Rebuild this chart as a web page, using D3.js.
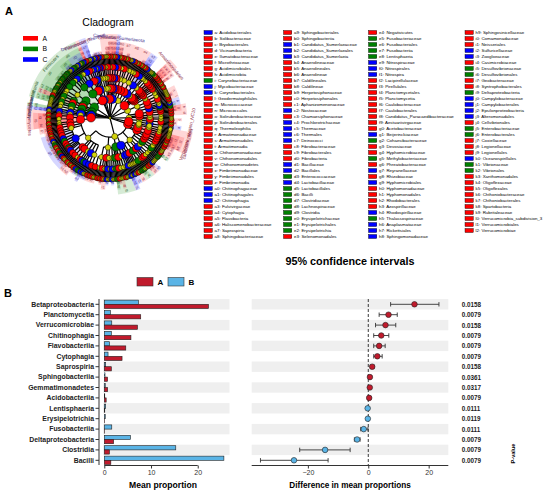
<!DOCTYPE html>
<html>
<head>
<meta charset="utf-8">
<script src="https://cdn.jsdelivr.net/npm/d3@7/dist/d3.min.js"></script>
<style>
  body { margin: 0; background: #fff; }
  svg { display: block; font-family: "Liberation Sans", Arial, sans-serif; }
</style>
</head>
<body>
<svg id="fig" width="550" height="494"></svg>
<script>
// ---------------- data : panel B ----------------
const classes = ["Betaproteobacteria", "Planctomycetia", "Verrucomicrobiae", "Chitinophagia",
  "Flavobacteriia", "Cytophagia", "Saprospiria", "Sphingobacteriia", "Gemmatimonadetes",
  "Acidobacteriia", "Lentisphaeria", "Erysipelotrichia", "Fusobacteriia", "Deltaproteobacteria",
  "Clostridia", "Bacilli"];
const meanA = [22.3, 7.8, 7.1, 5.7, 4.6, 3.8, 1.5, 0.7, 0.7, 0.4, 0.1, 0.05, 0.05, 2.0, 1.1, 1.4];
const meanB = [7.3, 1.3, 1.6, 1.5, 1.1, 0.8, 0.3, 0.15, 0.2, 0.1, 0.3, 0.2, 1.6, 5.6, 15.3, 25.6];
const diffMean = [15.3, 6.7, 5.7, 4.3, 3.6, 3.0, 1.3, 0.55, 0.5, 0.3, -0.2, -0.15, -1.5, -3.7, -14.3, -24.6];
const ciLow = [7.4, 3.6, 2.4, 1.8, 1.8, 1.8, 0.7, 0.3, 0.2, 0.1, -0.35, -0.3, -2.5, -4.6, -22.7, -35.7];
const ciHigh = [23.4, 9.6, 9.1, 6.8, 5.6, 4.6, 1.9, 0.8, 0.8, 0.5, -0.05, 0, -0.1, -2.7, -6.0, -13.3];
const pValues = ["0.0158", "0.0079", "0.0158", "0.0079", "0.0079", "0.0079", "0.0158", "0.0361",
  "0.0317", "0.0079", "0.0111", "0.0119", "0.0111", "0.0079", "0.0079", "0.0079"];
const meanTicks = [0, 10, 20];
const diffTicks = [-20, 0, 20];

// ---------------- data : panel A (cladogram) ----------------
const cladeGroups = ["A", "B", "C"];
// biomarker legend: code, taxon, group
const markers = [
  ["a","Acidobacteriales","C"],["b","Solibacteraceae","A"],["c","Bryobacterales","A"],["d","Vicinamibacteria","A"],
  ["e","Ilumatobacteraceae","A"],["f","Microthrixaceae","A"],["g","Acidimicrobiales","A"],["h","Acidimicrobiia","A"],
  ["i","Corynebacteriaceae","B"],["j","Mycobacteriaceae","C"],["k","Corynebacteriales","C"],["l","Geodermatophilales","A"],
  ["m","Micrococcaceae","A"],["n","Micrococcales","A"],["o","Solirubrobacteraceae","A"],["p","Solirubrobacterales","A"],
  ["q","Thermoleophilia","A"],["r","Armatimonadaceae","A"],["s","Armatimonadales","A"],["t","Armatimonadia","A"],
  ["u","Chthonomonadaceae","A"],["v","Chthonomonadales","A"],["w","Chthonomonadetes","A"],["x","Fimbriimonadaceae","A"],
  ["y","Fimbriimonadales","A"],["z","Fimbriimonadia","A"],["a0","Chitinophagaceae","C"],["a1","Chitinophagales","C"],
  ["a2","Chitinophagia","C"],["a3","Fulvivirgaceae","A"],["a4","Cytophagia","A"],["a5","Flavobacteria","A"],
  ["a6","Haliscomenobacteraceae","A"],["a7","Saprospiria","A"],["a8","Sphingobacteriaceae","A"],
  ["a9","Sphingobacteriales","A"],["b0","Sphingobacteriia","A"],["b1","Candidatus_Sumerlaeaceae","C"],["b2","Candidatus_Sumerlaeales","C"],
  ["b3","Candidatus_Sumerlaeia","C"],["b4","Anaerolineaceae","A"],["b5","Anaerolineales","A"],["b6","Anaerolineae","A"],
  ["b7","Caldilineales","A"],["b8","Caldilineae","A"],["b9","Herpetosiphonaceae","A"],["c0","Herpetosiphonales","A"],
  ["c1","Aphanizomenonaceae","A"],["c2","Nostocaceae","C"],["c3","Chamaesiphonaceae","A"],["c4","Prochlorotrichaceae","C"],
  ["c5","Thermaceae","C"],["c6","Thermales","C"],["c7","Deinococci","C"],["c8","Fibrobacteraceae","A"],
  ["c9","Fibrobacterales","A"],["d0","Fibrobacteria","A"],["d1","Bacillaceae","C"],["d2","Bacillales","C"],
  ["d3","Enterococcaceae","B"],["d4","Lactobacillaceae","C"],["d5","Lactobacillales","B"],["d6","Bacilli","B"],
  ["d7","Clostridiaceae","B"],["d8","Lachnospiraceae","B"],["d9","Clostridia","B"],["e0","Erysipelotrichaceae","B"],
  ["e1","Erysipelotrichales","B"],["e2","Erysipelotrichia","B"],["e3","Selenomonadales","A"],
  ["e4","Negativicutes","A"],["e5","Fusobacteriaceae","B"],["e6","Fusobacteriales","B"],["e7","Fusobacteriia","B"],
  ["e8","Lentisphaeria","B"],["e9","Nitrospiraceae","C"],["f0","Nitrospirales","C"],["f1","Nitrospira","C"],
  ["f2","Lacipirellulaceae","A"],["f3","Pirellulales","A"],["f4","Planctomycetales","A"],["f5","Planctomycetia","A"],
  ["f6","Caulobacteraceae","A"],["f7","Caulobacterales","A"],["f8","Candidatus_Paracaedibacteraceae","A"],["f9","Aestuariivirgaceae","A"],
  ["g0","Acetobacteraceae","A"],["g1","Beijerinckiaceae","C"],["g2","Cohaesibacteraceae","B"],["g3","Devosiaceae","A"],
  ["g4","Hyphomicrobiaceae","A"],["g5","Methylobacteriaceae","B"],["g6","Phreatobacteraceae","A"],["g7","Reyranellaceae","C"],
  ["g8","Rhizobiaceae","A"],["g9","Hyphomicrobiales","C"],["h0","Hyphomonadaceae","A"],["h1","Hyphomonadales","A"],
  ["h2","Rhodobacterales","A"],["h3","Azospirillaceae","A"],["h4","Rhodospirillaceae","C"],["h5","Thalassospiraceae","B"],
  ["h6","Anaplasmataceae","C"],["h7","Rickettsiales","C"],["h8","Sphingomonadaceae","C"],
  ["h9","Sphingosinicellaceae","A"],["i0","Comamonadaceae","A"],["i1","Neisseriales","A"],["i2","Sulfuricellaceae","C"],
  ["i3","Zoogloeaceae","C"],["i4","Casimicrobiaceae","A"],["i5","Desulfovibrionaceae","B"],["i6","Desulfovibrionales","B"],
  ["i7","Geobacteraceae","A"],["i8","Syntrophobacterales","A"],["i9","Deltaproteobacteria","B"],["j0","Campylobacteraceae","C"],
  ["j1","Campylobacterales","C"],["j2","Epsilonproteobacteria","C"],["j3","Alteromonadales","C"],["j4","Cellvibrionales","A"],
  ["j5","Enterobacteriaceae","B"],["j6","Enterobacterales","B"],["j7","Coxiellaceae","A"],["j8","Legionellaceae","A"],
  ["j9","Legionellales","A"],["k0","Oceanospirillales","C"],["k1","Vibrionaceae","B"],["k2","Vibrionales","B"],
  ["k3","Xanthomonadales","A"],["k4","Oligoflexaceae","A"],["k5","Oligoflexales","A"],["k6","Chthoniobacteraceae","A"],
  ["k7","Chthoniobacterales","A"],["k8","Spartobacteria","A"],["k9","Rubritaleaceae","A"],["l0","Verrucomicrobia_subdivision_3","A"],
  ["l1","Verrucomicrobiales","A"],["l2","Verrucomicrobiae","A"]
];
// phyla written in full around the cladogram
const phylumMarkers = [
  ["Armatimonadetes","A"],["Candidatus_Sumerlaeota","C"],["Chloroflexi","A"],["Deinococcus_Thermus","C"],
  ["Fibrobacteres","A"],["Firmicutes","B"],["Fusobacteria","B"],["Lentisphaerae","B"],["Nitrospirae","C"],
  ["Planctomycetes","A"],["Verrucomicrobia","A"],["candidate_division_NC10","A"]
];
// lineage phylum>class>order>family : one code per genus (A/B/C enriched, y = not significant)
const lineages = [
  "Acidobacteria>Acidobacteriia>Acidobacteriales>Acidobacteriaceae:Cyy",
  "Acidobacteria>Acidobacteriia>Solibacterales>Solibacteraceae:Ayy",
  "Acidobacteria>Acidobacteriia>Bryobacterales>Bryobacteraceae:Ay",
  "Acidobacteria>Blastocatellia>Blastocatellales>Blastocatellaceae:yy",
  "Acidobacteria>Vicinamibacteria>Vicinamibacterales>Vicinamibacteraceae:yAy",
  "Actinobacteria>Acidimicrobiia>Acidimicrobiales>Ilumatobacteraceae:Ay",
  "Actinobacteria>Acidimicrobiia>Acidimicrobiales>Microthrixaceae:Ay",
  "Actinobacteria>Actinobacteria>Corynebacteriales>Corynebacteriaceae:By",
  "Actinobacteria>Actinobacteria>Corynebacteriales>Mycobacteriaceae:C",
  "Actinobacteria>Actinobacteria>Corynebacteriales>Nocardiaceae:yy",
  "Actinobacteria>Actinobacteria>Geodermatophilales>Geodermatophilaceae:Ay",
  "Actinobacteria>Actinobacteria>Micrococcales>Micrococcaceae:Ayy",
  "Actinobacteria>Actinobacteria>Micrococcales>Microbacteriaceae:yyy",
  "Actinobacteria>Actinobacteria>Propionibacteriales>Nocardioidaceae:yyA",
  "Actinobacteria>Actinobacteria>Streptomycetales>Streptomycetaceae:yy",
  "Actinobacteria>Thermoleophilia>Solirubrobacterales>Solirubrobacteraceae:Ay",
  "Actinobacteria>Thermoleophilia>Gaiellales>Gaiellaceae:y",
  "Armatimonadetes>Armatimonadia>Armatimonadales>Armatimonadaceae:Ay",
  "Armatimonadetes>Chthonomonadetes>Chthonomonadales>Chthonomonadaceae:Ay",
  "Armatimonadetes>Fimbriimonadia>Fimbriimonadales>Fimbriimonadaceae:Ay",
  "Bacteroidetes>Bacteroidia>Bacteroidales>Bacteroidaceae:yBy",
  "Bacteroidetes>Bacteroidia>Bacteroidales>Prevotellaceae:yy",
  "Bacteroidetes>Bacteroidia>Bacteroidales>Rikenellaceae:y",
  "Bacteroidetes>Chitinophagia>Chitinophagales>Chitinophagaceae:CyAyy",
  "Bacteroidetes>Cytophagia>Cytophagales>Fulvivirgaceae:Ay",
  "Bacteroidetes>Cytophagia>Cytophagales>Cytophagaceae:yAy",
  "Bacteroidetes>Cytophagia>Cytophagales>Microscillaceae:y",
  "Bacteroidetes>Flavobacteria>Flavobacteriales>Flavobacteriaceae:AyCy",
  "Bacteroidetes>Flavobacteria>Flavobacteriales>Weeksellaceae:yy",
  "Bacteroidetes>Saprospiria>Saprospirales>Haliscomenobacteraceae:Ay",
  "Bacteroidetes>Saprospiria>Saprospirales>Saprospiraceae:yAy",
  "Bacteroidetes>Sphingobacteriia>Sphingobacteriales>Sphingobacteriaceae:Ayy",
  "Candidatus_Sumerlaeota>Candidatus_Sumerlaeia>Candidatus_Sumerlaeales>Candidatus_Sumerlaeaceae:Cy",
  "Chloroflexi>Anaerolineae>Anaerolineales>Anaerolineaceae:Ayy",
  "Chloroflexi>Caldilineae>Caldilineales>Caldilineaceae:Ay",
  "Chloroflexi>Chloroflexia>Herpetosiphonales>Herpetosiphonaceae:Ay",
  "Chloroflexi>Chloroflexia>Chloroflexales>Roseiflexaceae:yy",
  "Chloroflexi>Ktedonobacteria>Ktedonobacterales>Ktedonobacteraceae:y",
  "Cyanobacteria>Oxyphotobacteria>Nostocales>Aphanizomenonaceae:Ay",
  "Cyanobacteria>Oxyphotobacteria>Nostocales>Nostocaceae:Cy",
  "Cyanobacteria>Oxyphotobacteria>Synechococcales>Chamaesiphonaceae:A",
  "Cyanobacteria>Oxyphotobacteria>Synechococcales>Prochlorotrichaceae:C",
  "Cyanobacteria>Oxyphotobacteria>Chloroplast>Chloroplast_uncultured:yy",
  "Deinococcus_Thermus>Deinococci>Thermales>Thermaceae:Cy",
  "Deinococcus_Thermus>Deinococci>Deinococcales>Deinococcaceae:yy",
  "Fibrobacteres>Fibrobacteria>Fibrobacterales>Fibrobacteraceae:Ay",
  "Firmicutes>Bacilli>Bacillales>Bacillaceae:CyBy",
  "Firmicutes>Bacilli>Bacillales>Planococcaceae:yCy",
  "Firmicutes>Bacilli>Bacillales>Staphylococcaceae:yB",
  "Firmicutes>Bacilli>Lactobacillales>Enterococcaceae:By",
  "Firmicutes>Bacilli>Lactobacillales>Lactobacillaceae:Cyy",
  "Firmicutes>Bacilli>Lactobacillales>Streptococcaceae:yB",
  "Firmicutes>Clostridia>Clostridiales>Clostridiaceae:ByBy",
  "Firmicutes>Clostridia>Clostridiales>Lachnospiraceae:BByBy",
  "Firmicutes>Clostridia>Clostridiales>Ruminococcaceae:yByy",
  "Firmicutes>Clostridia>Clostridiales>Peptostreptococcaceae:By",
  "Firmicutes>Erysipelotrichia>Erysipelotrichales>Erysipelotrichaceae:Byy",
  "Firmicutes>Negativicutes>Selenomonadales>Veillonellaceae:yAy",
  "Fusobacteria>Fusobacteriia>Fusobacteriales>Fusobacteriaceae:By",
  "Fusobacteria>Fusobacteriia>Fusobacteriales>Leptotrichiaceae:yy",
  "Gemmatimonadetes>Gemmatimonadetes>Gemmatimonadales>Gemmatimonadaceae:yyy",
  "Lentisphaerae>Lentisphaeria>Victivallales>Victivallaceae:yy",
  "Nitrospirae>Nitrospira>Nitrospirales>Nitrospiraceae:Cy",
  "Planctomycetes>Phycisphaerae>Tepidisphaerales>WD2101:yy",
  "Planctomycetes>Planctomycetia>Pirellulales>Lacipirellulaceae:Ay",
  "Planctomycetes>Planctomycetia>Pirellulales>Pirellulaceae:yAyy",
  "Planctomycetes>Planctomycetia>Planctomycetales>Gemmataceae:yAy",
  "Planctomycetes>Planctomycetia>Planctomycetales>Rubinisphaeraceae:y",
  "Proteobacteria>Alphaproteobacteria>Caulobacterales>Caulobacteraceae:AyAy",
  "Proteobacteria>Alphaproteobacteria>Paracaedibacterales>Candidatus_Paracaedibacteraceae:Ay",
  "Proteobacteria>Alphaproteobacteria>Hyphomicrobiales>Aestuariivirgaceae:Ay",
  "Proteobacteria>Alphaproteobacteria>Hyphomicrobiales>Acetobacteraceae:yAy",
  "Proteobacteria>Alphaproteobacteria>Hyphomicrobiales>Beijerinckiaceae:Cyy",
  "Proteobacteria>Alphaproteobacteria>Hyphomicrobiales>Cohaesibacteraceae:By",
  "Proteobacteria>Alphaproteobacteria>Hyphomicrobiales>Devosiaceae:Ayy",
  "Proteobacteria>Alphaproteobacteria>Hyphomicrobiales>Hyphomicrobiaceae:Ay",
  "Proteobacteria>Alphaproteobacteria>Hyphomicrobiales>Methylobacteriaceae:By",
  "Proteobacteria>Alphaproteobacteria>Hyphomicrobiales>Phreatobacteraceae:A",
  "Proteobacteria>Alphaproteobacteria>Hyphomicrobiales>Reyranellaceae:Cy",
  "Proteobacteria>Alphaproteobacteria>Hyphomicrobiales>Rhizobiaceae:Ayyy",
  "Proteobacteria>Alphaproteobacteria>Hyphomonadales>Hyphomonadaceae:Ay",
  "Proteobacteria>Alphaproteobacteria>Rhodobacterales>Rhodobacteraceae:yAyy",
  "Proteobacteria>Alphaproteobacteria>Rhodospirillales>Azospirillaceae:Ay",
  "Proteobacteria>Alphaproteobacteria>Rhodospirillales>Rhodospirillaceae:Cy",
  "Proteobacteria>Alphaproteobacteria>Rhodospirillales>Thalassospiraceae:By",
  "Proteobacteria>Alphaproteobacteria>Rickettsiales>Anaplasmataceae:Cy",
  "Proteobacteria>Alphaproteobacteria>Sphingomonadales>Sphingomonadaceae:Cyyy",
  "Proteobacteria>Alphaproteobacteria>Sphingomonadales>Sphingosinicellaceae:Ay",
  "Proteobacteria>Betaproteobacteria>Burkholderiales>Comamonadaceae:AyAyy",
  "Proteobacteria>Betaproteobacteria>Burkholderiales>Burkholderiaceae:yAy",
  "Proteobacteria>Betaproteobacteria>Burkholderiales>Casimicrobiaceae:Ay",
  "Proteobacteria>Betaproteobacteria>Neisseriales>Neisseriaceae:Ay",
  "Proteobacteria>Betaproteobacteria>Neisseriales>Chromobacteriaceae:y",
  "Proteobacteria>Betaproteobacteria>Nitrosomonadales>Sulfuricellaceae:Cy",
  "Proteobacteria>Betaproteobacteria>Nitrosomonadales>Nitrosomonadaceae:yy",
  "Proteobacteria>Betaproteobacteria>Rhodocyclales>Zoogloeaceae:Cy",
  "Proteobacteria>Betaproteobacteria>Rhodocyclales>Rhodocyclaceae:yy",
  "Proteobacteria>Deltaproteobacteria>Desulfovibrionales>Desulfovibrionaceae:By",
  "Proteobacteria>Deltaproteobacteria>Desulfuromonadales>Geobacteraceae:Ay",
  "Proteobacteria>Deltaproteobacteria>Syntrophobacterales>Syntrophaceae:yy",
  "Proteobacteria>Deltaproteobacteria>Myxococcales>Polyangiaceae:yAy",
  "Proteobacteria>Deltaproteobacteria>Myxococcales>Haliangiaceae:yy",
  "Proteobacteria>Epsilonproteobacteria>Campylobacterales>Campylobacteraceae:Cy",
  "Proteobacteria>Epsilonproteobacteria>Campylobacterales>Helicobacteraceae:y",
  "Proteobacteria>Gammaproteobacteria>Alteromonadales>Alteromonadaceae:Cy",
  "Proteobacteria>Gammaproteobacteria>Alteromonadales>Shewanellaceae:y",
  "Proteobacteria>Gammaproteobacteria>Cellvibrionales>Cellvibrionaceae:Ay",
  "Proteobacteria>Gammaproteobacteria>Cellvibrionales>Spongiibacteraceae:y",
  "Proteobacteria>Gammaproteobacteria>Enterobacterales>Enterobacteriaceae:ByBy",
  "Proteobacteria>Gammaproteobacteria>Enterobacterales>Aeromonadaceae:yy",
  "Proteobacteria>Gammaproteobacteria>Legionellales>Coxiellaceae:Ay",
  "Proteobacteria>Gammaproteobacteria>Legionellales>Legionellaceae:Ay",
  "Proteobacteria>Gammaproteobacteria>Oceanospirillales>Halomonadaceae:Cy",
  "Proteobacteria>Gammaproteobacteria>Pseudomonadales>Pseudomonadaceae:yyy",
  "Proteobacteria>Gammaproteobacteria>Pseudomonadales>Moraxellaceae:yBy",
  "Proteobacteria>Gammaproteobacteria>Vibrionales>Vibrionaceae:By",
  "Proteobacteria>Gammaproteobacteria>Xanthomonadales>Xanthomonadaceae:Ayy",
  "Proteobacteria>Gammaproteobacteria>Xanthomonadales>Rhodanobacteraceae:yy",
  "Proteobacteria>Oligoflexia>Oligoflexales>Oligoflexaceae:Ay",
  "Verrucomicrobia>Spartobacteria>Chthoniobacterales>Chthoniobacteraceae:Ayy",
  "Verrucomicrobia>Verrucomicrobiae>Verrucomicrobiales>Rubritaleaceae:Ay",
  "Verrucomicrobia>Verrucomicrobiae>Verrucomicrobiales>Verrucomicrobia_subdivision_3:Ay",
  "Verrucomicrobia>Verrucomicrobiae>Verrucomicrobiales>Verrucomicrobiaceae:yy",
  "Verrucomicrobia>Opitutae>Opitutales>Opitutaceae:yy",
  "candidate_division_NC10>Methylomirabilia>Methylomirabilales>Methylomirabilaceae:yy"
];

// ---------------- styles ----------------
const cladeColor = {A: "#ff0000", B: "#008000", C: "#0000ff", y: "#d2d20c"};
const cladeText = {A: "#8a1c3a", B: "#2c5c2c", C: "#3a2a8a"};
const colA = "#c01a2c", colB = "#5ab4e6";

const svg = d3.select("#fig");

// panel letters
svg.append("text").attr("x", 5).attr("y", 15).attr("font-size", 11).attr("font-weight", "bold").text("A");
svg.append("text").attr("x", 4).attr("y", 297).attr("font-size", 11).attr("font-weight", "bold").text("B");

// =============== Panel A : cladogram ===============
const cx = 110, cy = 118;
const ringR = [0, 19, 29.5, 40, 51, 61.5];          // root, phylum, class, order, family, genus
const bandOuter = [0, 84, 77, 72, 67.5];            // shading outer radius by depth
const nodeSig = [0, 4.4, 4.1, 3.7, 3.2, 2.7];
const nodeNs = [2.2, 3.0, 2.8, 2.6, 2.3, 2.1];
const a0 = 100 * Math.PI / 180;

const clad = svg.append("g").attr("transform", `translate(${cx},${cy})`);
svg.append("text").attr("x", 108).attr("y", 26).attr("text-anchor", "middle")
  .attr("font-size", 10.5).text("Cladogram");

// build tree
const markerByName = new Map(markers.map(m => [m[1], m]));
const phylumByName = new Map(phylumMarkers);
const treeData = {name: "Bacteria", children: []};
lineages.forEach(line => {
  const [path, codes] = line.split(":");
  let node = treeData;
  path.split(">").forEach(name => {
    let child = node.children.find(c => c.name === name);
    if (!child) { child = {name: name, children: []}; node.children.push(child); }
    node = child;
  });
  codes.split("").forEach((g, i) => node.children.push({name: node.name + "_" + i, grp: g}));
});
const root = d3.hierarchy(treeData);
const nLeaves = root.leaves().length;
d3.cluster().size([2 * Math.PI, 1]).separation(() => 1)(root);
const step = 2 * Math.PI / nLeaves;

root.each(d => {
  d.ang = a0 - d.x;
  d.r = ringR[d.depth];
  if (d.depth === 0) d.grp = "y";
  else if (d.depth === 1) d.grp = phylumByName.get(d.data.name) || "y";
  else if (d.depth < 5) { const m = markerByName.get(d.data.name); d.grp = m ? m[2] : "y"; d.code = m ? m[0] : null; }
  else d.grp = d.data.grp;
});
const pt = (a, r) => [r * Math.sin(a), -r * Math.cos(a)];

// shaded clades
const sigClades = root.descendants().filter(d => d.depth > 0 && d.depth < 5 && d.grp !== "y")
  .sort((p, q) => p.depth - q.depth);
const arcGen = d3.arc();
sigClades.forEach(d => {
  const angs = d.leaves().map(l => l.ang);
  d.a1 = d3.min(angs) - step / 2;
  d.a2 = d3.max(angs) + step / 2;
});
clad.append("g").selectAll("path").data(sigClades).join("path")
  .attr("d", d => arcGen({innerRadius: d.r, outerRadius: bandOuter[d.depth], startAngle: d.a1, endAngle: d.a2}))
  .attr("fill", d => cladeColor[d.grp]).attr("fill-opacity", 0.16);

// edges: arc on parent ring, radial spoke to child
const edges = clad.append("g").attr("fill", "none").attr("stroke", "#000").attr("stroke-width", 1.2);
root.descendants().filter(d => d.children).forEach(d => {
  const angs = d.children.map(c => c.ang);
  if (d.depth > 0 && d.children.length > 1) {
    const p = d3.path();
    p.arc(0, 0, d.r, d3.min(angs) - Math.PI / 2, d3.max(angs) - Math.PI / 2);
    edges.append("path").attr("d", p.toString());
  }
  d.children.forEach(c => {
    const s = pt(c.ang, d.r), e = pt(c.ang, c.r);
    edges.append("line").attr("x1", s[0]).attr("y1", s[1]).attr("x2", e[0]).attr("y2", e[1]);
  });
});

// nodes (outer first so inner ones stay on top)
const nodes = root.descendants().sort((p, q) => q.depth - p.depth);
clad.append("g").selectAll("circle").data(nodes).join("circle")
  .attr("cx", d => pt(d.ang, d.r)[0]).attr("cy", d => pt(d.ang, d.r)[1])
  .attr("r", d => d.depth === 0 ? 1.2 : (d.grp === "y" ? nodeNs[d.depth] : nodeSig[d.depth]))
  .attr("fill", d => cladeColor[d.grp]).attr("stroke", "#000").attr("stroke-width", 0.5);

// clade labels (letters, phylum names in full)
const tangential = (a, r) => {
  const p = pt(a, r);
  let deg = a * 180 / Math.PI;
  const norm = ((deg % 360) + 360) % 360;
  if (norm > 90 && norm < 270) deg += 180;
  return `translate(${p[0]},${p[1]}) rotate(${deg})`;
};
clad.append("g").selectAll("text").data(sigClades).join("text")
  .attr("transform", d => tangential((d.a1 + d.a2) / 2, bandOuter[d.depth] - (d.depth === 1 ? 3.5 : 2.4)))
  .attr("text-anchor", "middle").attr("dominant-baseline", "central")
  .attr("font-size", d => d.depth === 1 ? 4.6 : 3.6)
  .attr("fill", d => cladeText[d.grp])
  .text(d => d.depth === 1 ? d.data.name : d.code);

// group legend
const gLeg = svg.append("g");
cladeGroups.forEach((g, i) => {
  gLeg.append("rect").attr("x", 23).attr("y", 36 + i * 10.6).attr("width", 15).attr("height", 4.6)
    .attr("fill", cladeColor[g]);
  gLeg.append("text").attr("x", 42.5).attr("y", 38.3 + i * 10.6).attr("dominant-baseline", "central")
    .attr("font-size", 6.8).text(g);
});

// biomarker key, four columns
const keyX = [204, 283.5, 368.5, 465];
const keyRows = [0, 35, 70, 105, markers.length];
const key = svg.append("g").attr("font-size", 4.4);
markers.forEach((m, i) => {
  const col = d3.bisectRight(keyRows, i) - 1;
  const row = i - keyRows[col];
  const yy = 32.5 + row * 6.0;
  key.append("rect").attr("x", keyX[col]).attr("y", yy - 2).attr("width", 8.3).attr("height", 4)
    .attr("fill", cladeColor[m[2]]).attr("stroke", "#000").attr("stroke-width", 0.4);
  key.append("text").attr("x", keyX[col] + 10.6).attr("y", yy).attr("dominant-baseline", "central")
    .text(`${m[0]}: ${m[1]}`);
});

// =============== Panel B : extended error bar ===============
const y = d3.scaleBand().domain(classes).range([299.1, 465.5]);
const rowC = c => y(c) + y.bandwidth() / 2;
const barH = 4.2;

svg.append("text").attr("x", 350).attr("y", 265).attr("text-anchor", "middle")
  .attr("font-size", 10.8).attr("font-weight", "bold").text("95% confidence intervals");

const legB = svg.append("g").attr("font-size", 8).attr("font-weight", "bold");
[["A", colA, 137], ["B", colB, 168]].forEach(([lab, col, lx]) => {
  legB.append("rect").attr("x", lx).attr("y", 277.5).attr("width", 16).attr("height", 8.5)
    .attr("fill", col).attr("stroke", "#333").attr("stroke-width", 0.6);
  legB.append("text").attr("x", lx + 20.5).attr("y", 282).attr("dominant-baseline", "central").text(lab);
});

// ---- left: mean proportion ----
const xm = d3.scaleLinear().domain([0, 26.8]).range([104.3, 229.5]);
const left = svg.append("g");
left.append("g").selectAll("rect").data(classes.filter((c, i) => i % 2 === 0)).join("rect")
  .attr("x", 103).attr("width", 229.5 - 103).attr("y", d => y(d)).attr("height", y.bandwidth())
  .attr("fill", "#efefef");
left.append("g").selectAll("rect").data(classes).join("rect")
  .attr("x", xm(0)).attr("y", d => rowC(d) - barH).attr("height", barH)
  .attr("width", (d, i) => xm(meanB[i]) - xm(0))
  .attr("fill", colB).attr("stroke", "#222").attr("stroke-width", 0.6);
left.append("g").selectAll("rect").data(classes).join("rect")
  .attr("x", xm(0)).attr("y", d => rowC(d)).attr("height", barH)
  .attr("width", (d, i) => xm(meanA[i]) - xm(0))
  .attr("fill", colA).attr("stroke", "#222").attr("stroke-width", 0.6);

const yAxisL = left.append("g").attr("transform", "translate(99,0)")
  .call(d3.axisLeft(y).tickSize(3.5).tickPadding(1.5));
yAxisL.select(".domain").attr("d", `M0,${299}V${465}`).attr("stroke", "#333");
yAxisL.selectAll("text").attr("font-size", 6.9).attr("font-weight", "bold").attr("fill", "#222")
  .attr("font-family", "Liberation Sans, Arial, sans-serif");
yAxisL.selectAll(".tick line").attr("stroke", "#333");

const xAxisL = left.append("g").attr("transform", "translate(0,465.5)")
  .call(d3.axisBottom(xm).tickValues(meanTicks).tickSize(3).tickPadding(2));
xAxisL.select(".domain").attr("d", `M${xm(0)},0H${xm(20)}`).attr("stroke", "#333");
xAxisL.selectAll("text").attr("font-size", 7).attr("fill", "#333")
  .attr("font-family", "Liberation Sans, Arial, sans-serif");
xAxisL.selectAll(".tick line").attr("stroke", "#333");
left.append("text").attr("x", 163).attr("y", 488).attr("text-anchor", "middle")
  .attr("font-size", 8.6).attr("font-weight", "bold").text("Mean proportion");

// ---- right: difference in mean proportions ----
const xd = d3.scaleLinear().domain([-38.6, 26.5]).range([251.7, 448.3]);
const right = svg.append("g");
right.append("g").selectAll("rect").data(classes.filter((c, i) => i % 2 === 0)).join("rect")
  .attr("x", 251.7).attr("width", 448.3 - 251.7).attr("y", d => y(d)).attr("height", y.bandwidth())
  .attr("fill", "#efefef");
right.append("line").attr("x1", xd(0)).attr("x2", xd(0)).attr("y1", 299).attr("y2", 465.5)
  .attr("stroke", "#222").attr("stroke-width", 0.9).attr("stroke-dasharray", "3,2");

const eb = right.append("g").attr("stroke", "#333").attr("stroke-width", 0.9);
classes.forEach((c, i) => {
  const yc = rowC(c);
  eb.append("line").attr("x1", xd(ciLow[i])).attr("x2", xd(ciHigh[i])).attr("y1", yc).attr("y2", yc);
  [ciLow[i], ciHigh[i]].forEach(v => eb.append("line")
    .attr("x1", xd(v)).attr("x2", xd(v)).attr("y1", yc - 2.2).attr("y2", yc + 2.2));
});
right.append("g").selectAll("circle").data(classes).join("circle")
  .attr("cx", (d, i) => xd(diffMean[i])).attr("cy", d => rowC(d)).attr("r", 2.8)
  .attr("fill", (d, i) => diffMean[i] > 0 ? colA : colB)
  .attr("stroke", "#222").attr("stroke-width", 0.6);

const xAxisR = right.append("g").attr("transform", "translate(0,465.5)")
  .call(d3.axisBottom(xd).tickValues(diffTicks).tickSize(3).tickPadding(2));
xAxisR.select(".domain").attr("d", `M251.7,0H448.3`).attr("stroke", "#333");
xAxisR.selectAll("text").attr("font-size", 7).attr("fill", "#333")
  .attr("font-family", "Liberation Sans, Arial, sans-serif");
xAxisR.selectAll(".tick line").attr("stroke", "#333");
right.append("text").attr("x", 350).attr("y", 488).attr("text-anchor", "middle")
  .attr("font-size", 8.2).attr("font-weight", "bold").text("Difference in mean proportions");

// p-values
right.append("g").selectAll("text").data(classes).join("text")
  .attr("x", 461.7).attr("y", d => rowC(d)).attr("dominant-baseline", "central")
  .attr("font-size", 6.3).attr("font-weight", "bold").attr("fill", "#222")
  .text((d, i) => pValues[i]);
right.append("text").attr("transform", "translate(515,453.5) rotate(-90)")
  .attr("text-anchor", "middle").attr("font-size", 5.6).attr("font-weight", "bold").text("P-value");
</script>
</body>
</html>
